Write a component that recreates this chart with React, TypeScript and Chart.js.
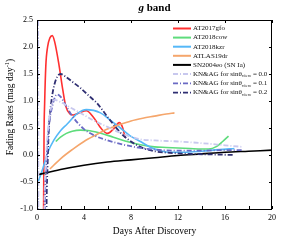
import React, { useEffect, useRef } from 'react';
import { Chart, registerables } from 'chart.js';
Chart.register(...registerables);

const xTickLabels = ['0', '4', '8', '12', '16', '20'];
const yTickLabels = ['-1.0', '-0.5', '0.0', '0.5', '1.0', '1.5', '2.0', '2.5'];

const gfoDays = [0.55, 0.6, 0.65, 0.75, 0.9, 1.1, 1.3, 1.5, 1.87, 2.2, 2.45, 2.8, 3.1, 3.6, 4.2, 4.8, 5.5, 6.0, 6.5, 7.0, 7.3, 7.5];
const gfoRates = [-1.5, 0.4, 0.95, 1.65, 2.0, 2.17, 2.21, 2.1, 1.67, 1.2, 0.9, 0.76, 0.74, 0.78, 0.82, 0.7, 0.48, 0.4, 0.48, 0.6, 0.5, 0.32];

const cowDays = [1.6, 2, 2.5, 3, 3.7, 4.5, 5.5, 6.5, 7.5, 8.8, 10, 11, 12, 13, 14, 14.6, 15.3, 15.8, 16.3];
const cowRates = [0.25, 0.33, 0.4, 0.44, 0.46, 0.45, 0.4, 0.33, 0.26, 0.19, 0.15, 0.14, 0.13, 0.12, 0.11, 0.11, 0.16, 0.25, 0.35];

const kzrDays = [0, 0.5, 0.9, 1.45, 2.0, 2.55, 3.4, 4.2, 5.4, 6.2, 7.1, 7.9, 8.8, 9.6, 10.5, 11.3, 12.5, 14, 15.5, 16.8];
const kzrRates = [-0.55, -0.25, 0.04, 0.28, 0.45, 0.57, 0.76, 0.84, 0.78, 0.65, 0.5, 0.36, 0.25, 0.15, 0.08, 0.05, 0.05, 0.07, 0.1, 0.12];

const dr19Days = [1.1, 2, 3, 4, 5, 6, 7, 8, 9, 10, 11, 11.7];
const dr19Rates = [-0.26, -0.07, 0.1, 0.25, 0.37, 0.48, 0.56, 0.63, 0.68, 0.72, 0.76, 0.78];

const eoDays = [0, 2, 4, 6, 8, 10, 12, 14, 16, 18, 20];
const eoRates = [-0.37, -0.27, -0.19, -0.13, -0.09, -0.05, -0.01, 0.02, 0.05, 0.07, 0.09];

const kn0Days = [0.05, 0.2, 0.5, 0.6, 0.75, 0.95, 1.2, 1.5, 2, 3, 4, 5, 6, 7, 8.8, 10, 12, 14, 16, 17.5];
const kn0Rates = [6, -6, -6, -1.5, -0.2, 0.5, 0.88, 1.02, 0.98, 0.86, 0.74, 0.62, 0.52, 0.42, 0.29, 0.27, 0.25, 0.22, 0.18, 0.15];

const kn1Days = [0.05, 0.12, 0.55, 0.65, 0.8, 1.0, 1.3, 1.7, 2.0, 2.5, 3, 4, 5, 6, 7, 8.8, 10, 12, 14, 16, 17.5];
const kn1Rates = [6, -6, -6, -1.5, -0.2, 0.5, 0.9, 1.12, 1.08, 0.9, 0.72, 0.48, 0.35, 0.27, 0.21, 0.13, 0.1, 0.08, 0.08, 0.09, 0.09];

const kn2Days = [0.05, 0.1, 0.7, 0.8, 0.9, 1.0, 1.2, 1.5, 2.0, 2.5, 3.1, 3.7, 4.5, 5.1, 6.2, 7.3, 8.8, 10, 11.3, 13, 15, 16.8];
const kn2Rates = [6, -6, -6, -1.3, -0.2, 0.45, 0.95, 1.32, 1.5, 1.44, 1.34, 1.24, 1.08, 0.96, 0.65, 0.37, 0.15, 0.07, 0.04, 0.02, 0.01, 0.0];

const seriesNames = ['AT2017gfo', 'AT2018cow', 'AT2018kzr', 'ATLAS19dr', 'SN2004eo (SN Ia)', '0.0', '0.1', '0.2'];
const seriesColors = ['#ff3030', '#5edc7c', '#55b8f8', '#f5a66c', '#000000', '#c8c8ee', '#6a6ac4', '#2f2f72'];

const pts = (xs: number[], ys: number[]) => xs.map((x, i) => ({ x, y: ys[i] }));

const SERIF = '"Liberation Serif", "DejaVu Serif", serif';

const decor = {
  id: 'decor',
  afterDraw(chart: any) {
    const { ctx, chartArea: a, scales } = chart;
    const xs = scales.x, ys = scales.y;
    ctx.save();
    ctx.strokeStyle = '#000';
    ctx.lineWidth = 1;
    ctx.strokeRect(a.left + 0.5, a.top + 0.5, a.right - a.left - 1, a.bottom - a.top);
    ctx.beginPath();
    for (let d = 0; d <= 20; d += 2) {
      const px = Math.round(xs.getPixelForValue(d)) + 0.5;
      ctx.moveTo(px, a.bottom); ctx.lineTo(px, a.bottom - 3);
      if (d % 4 === 0) { ctx.moveTo(px, a.top); ctx.lineTo(px, a.top + 3); }
    }
    for (let v = -1; v <= 2.5001; v += 0.5) {
      const py = Math.round(ys.getPixelForValue(v)) + 0.5;
      ctx.moveTo(a.left, py); ctx.lineTo(a.left + 3, py);
      ctx.moveTo(a.right, py); ctx.lineTo(a.right - 3, py);
    }
    ctx.stroke();

    // title
    ctx.fillStyle = '#000';
    ctx.textBaseline = 'middle';
    const cx = (a.left + a.right) / 2;
    ctx.font = `italic bold 11px ${SERIF}`;
    const gW = ctx.measureText('g').width;
    ctx.font = `bold 11px ${SERIF}`;
    const bW = ctx.measureText(' band').width;
    const start = cx - (gW + bW) / 2;
    ctx.textAlign = 'left';
    ctx.font = `italic bold 11px ${SERIF}`;
    ctx.fillText('g', start, 8);
    ctx.font = `bold 11px ${SERIF}`;
    ctx.fillText(' band', start + gW, 8);

    // x title
    ctx.font = `9.5px ${SERIF}`;
    ctx.textAlign = 'center';
    ctx.fillText('Days After Discovery', cx, 231);

    // y title
    ctx.save();
    ctx.translate(10, 107);
    ctx.rotate(-Math.PI / 2);
    ctx.font = `9.5px ${SERIF}`;
    const main = 'Fading Rates (mag day';
    const mw = ctx.measureText(main).width;
    ctx.font = `6.5px ${SERIF}`;
    const sw = ctx.measureText('-1').width;
    ctx.font = `9.5px ${SERIF}`;
    const cw = ctx.measureText(')').width;
    const tot = mw + sw + cw;
    ctx.textAlign = 'left';
    ctx.fillText(main, -tot / 2, 0);
    ctx.font = `6.5px ${SERIF}`;
    ctx.fillText('-1', -tot / 2 + mw, -3);
    ctx.font = `9.5px ${SERIF}`;
    ctx.fillText(')', -tot / 2 + mw + sw, 0);
    ctx.restore();

    // legend
    const lx0 = 173, lx1 = 191, tx = 193;
    const rows = [28.5, 37.6, 46.7, 55.8, 64.9, 74, 83.3, 92.6];
    ctx.textAlign = 'left';
    ctx.textBaseline = 'middle';
    seriesNames.forEach((name, i) => {
      const y = rows[i];
      ctx.beginPath();
      ctx.strokeStyle = seriesColors[i];
      ctx.lineWidth = i < 5 ? 2 : 1.8;
      ctx.setLineDash(i < 5 ? [] : [5, 2, 1, 2]);
      ctx.moveTo(lx0, y); ctx.lineTo(lx1, y);
      ctx.stroke();
      ctx.setLineDash([]);
      ctx.fillStyle = '#111';
      ctx.font = `7px ${SERIF}`;
      if (i < 5) {
        ctx.fillText(name, tx, y);
      } else {
        let x = tx;
        const p1 = 'KN&AG for sin\u03B8';
        ctx.fillText(p1, x, y);
        x += ctx.measureText(p1).width;
        ctx.font = `4.8px ${SERIF}`;
        ctx.fillText('view', x, y + 2.2);
        x += ctx.measureText('view').width;
        ctx.font = `7px ${SERIF}`;
        ctx.fillText(' = ' + name, x, y);
      }
    });
    ctx.restore();
  },
};

export default function App() {
  const ref = useRef<HTMLCanvasElement>(null);
  useEffect(() => {
    if (!ref.current) return;
    const mk = (i: number, xs: number[], ys: number[], dashed: boolean) => ({
      label: seriesNames[i],
      data: pts(xs, ys),
      showLine: true,
      borderColor: seriesColors[i],
      backgroundColor: seriesColors[i],
      borderWidth: dashed ? 1.8 : 1.6,
      borderDash: dashed ? [5, 2, 1, 2] : [],
      pointRadius: 0,
      cubicInterpolationMode: 'monotone' as const,
      fill: false,
    });
    const chart = new Chart(ref.current, {
      type: 'scatter',
      data: {
        datasets: [
          mk(5, kn0Days, kn0Rates, true),
          mk(6, kn1Days, kn1Rates, true),
          mk(7, kn2Days, kn2Rates, true),
          mk(4, eoDays, eoRates, false),
          mk(3, dr19Days, dr19Rates, false),
          mk(2, kzrDays, kzrRates, false),
          mk(1, cowDays, cowRates, false),
          mk(0, gfoDays, gfoRates, false),
        ],
      },
      options: {
        responsive: false,
        animation: false,
        layout: { padding: { top: 20, right: 21, left: 0, bottom: 0 } },
        plugins: { legend: { display: false }, tooltip: { enabled: false }, title: { display: false } },
        scales: {
          x: {
            type: 'linear', min: 0, max: 20,
            afterFit: (s: any) => { s.height = 31; },
            grid: { display: false, drawTicks: false },
            border: { display: false },
            ticks: {
              stepSize: 4, padding: 4, color: '#000', maxRotation: 0,
              font: { family: SERIF, size: 8 },
              callback: (v: any) => xTickLabels.includes(String(v)) ? String(v) : '',
            },
          },
          y: {
            type: 'linear', min: -1, max: 2.5,
            afterFit: (s: any) => { s.width = 37; },
            grid: { display: false, drawTicks: false },
            border: { display: false },
            ticks: {
              stepSize: 0.5, padding: 4, color: '#000',
              font: { family: SERIF, size: 8 },
              callback: (v: any) => { const s = Number(v).toFixed(1); return yTickLabels.includes(s) ? s : ''; },
            },
          },
        },
      },
      plugins: [decor],
    });
    return () => chart.destroy();
  }, []);
  return (
    <div style={{ position: 'fixed', left: 0, top: 0, width: 293, height: 240, background: '#fff' }}>
      <canvas ref={ref} width={293} height={240} />
    </div>
  );
}
